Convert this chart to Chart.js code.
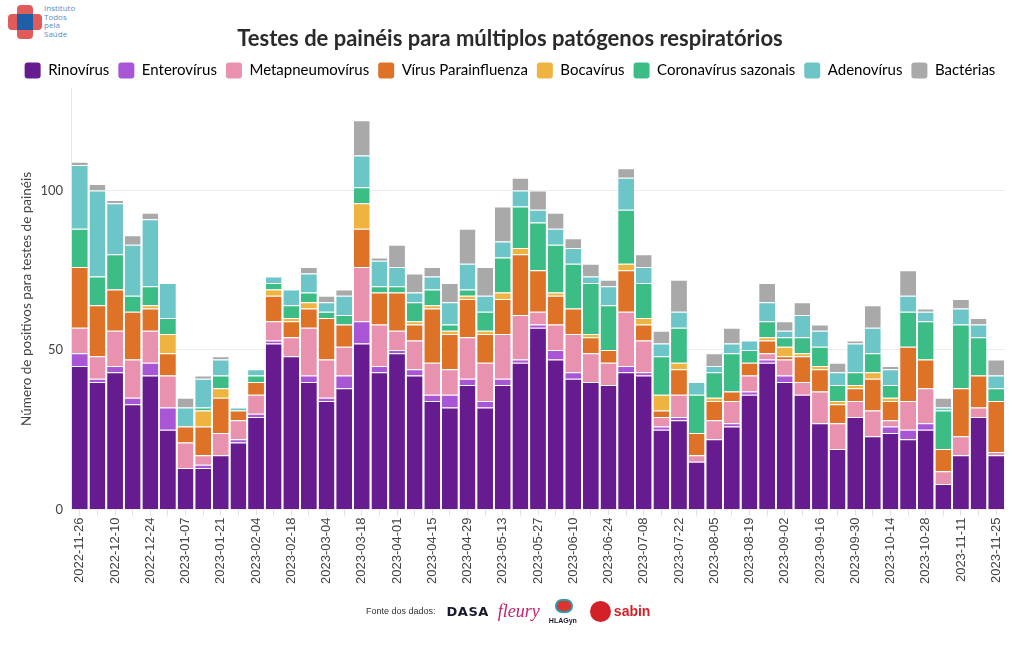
<!DOCTYPE html>
<html lang="pt-BR">
<head>
<meta charset="utf-8">
<title>Testes de painéis para múltiplos patógenos respiratórios</title>
<script src="https://cdn.jsdelivr.net/npm/chart.js@4.4.0/dist/chart.umd.min.js"></script>
<style>
  html, body { margin: 0; padding: 0; background: #fff; }
  body { width: 1020px; height: 650px; position: relative; overflow: hidden; font-family: "Liberation Sans", Arial, sans-serif; }
  #wrap { position: absolute; left: 0; top: 0; width: 1020px; height: 600px; }
  .logo { position: absolute; left: 8px; top: 5px; width: 34px; height: 34px; }
  .logo .v { position: absolute; left: 9px; top: 0; width: 16px; height: 34px; background: #e25b5b; border-radius: 4px; }
  .logo .h { position: absolute; left: 0; top: 9px; width: 34px; height: 16px; background: #e25b5b; border-radius: 4px; }
  .logo .c { position: absolute; left: 9px; top: 9px; width: 16px; height: 16px; background: #1f5fa8; }
  .logo-text { position: absolute; left: 44px; top: 4px; font-size: 8px; line-height: 8.5px; color: #5a8cc4; font-family: "Open Sans", sans-serif; }
  .footer { position: absolute; top: 598px; left: 366px; height: 26px; display: flex; align-items: center; gap: 9px; }
  .footer .src { font-size: 9px; color: #333; margin-right: 2px; }
  .dasa { font-family: "DejaVu Sans", sans-serif; font-weight: bold; font-size: 13px; letter-spacing: 0.5px; color: #1a1a2e; }
  .fleury { font-family: "Liberation Serif", serif; font-style: italic; font-size: 18px; color: #c8206a; }
  .hla { position: relative; width: 32px; height: 26px; }
  .hla .ic { position: absolute; left: 6px; top: 1px; width: 18px; height: 14px; border-radius: 7px; background: #d33; border: 2px solid #2a9aa6; box-sizing: border-box; }
  .hla .t { position: absolute; left: 0; bottom: 0; font-size: 7px; font-weight: bold; color: #1a1a2e; }
  .sabin { display: flex; align-items: center; gap: 3px; }
  .sabin .dot { width: 21px; height: 21px; border-radius: 50%; background: #d42027; }
  .sabin .t { font-size: 14px; font-weight: bold; color: #d42027; font-family: "Liberation Sans", sans-serif; }
</style>
</head>
<body>
<div class="logo"><div class="v"></div><div class="h"></div><div class="c"></div></div>
<div class="logo-text">Instituto<br>Todos<br>pela<br>Saúde</div>
<div id="wrap"><canvas id="chart"></canvas></div>
<div class="footer">
  <span class="src">Fonte dos dados:</span>
  <span class="dasa">DASA</span>
  <span class="fleury">fleury</span>
  <span class="hla"><span class="ic"></span><span class="t">HLAGyn</span></span>
  <span class="sabin"><span class="dot"></span><span class="t">sabin</span></span>
</div>
<script>
"use strict";

const weeks = [
  "2022-11-26", "2022-12-03", "2022-12-10", "2022-12-17", "2022-12-24", "2022-12-31",
  "2023-01-07", "2023-01-14", "2023-01-21", "2023-01-28", "2023-02-04", "2023-02-11",
  "2023-02-18", "2023-02-25", "2023-03-04", "2023-03-11", "2023-03-18", "2023-03-25",
  "2023-04-01", "2023-04-08", "2023-04-15", "2023-04-22", "2023-04-29", "2023-05-06",
  "2023-05-13", "2023-05-20", "2023-05-27", "2023-06-03", "2023-06-10", "2023-06-17",
  "2023-06-24", "2023-07-01", "2023-07-08", "2023-07-15", "2023-07-22", "2023-07-29",
  "2023-08-05", "2023-08-12", "2023-08-19", "2023-08-26", "2023-09-02", "2023-09-09",
  "2023-09-16", "2023-09-23", "2023-09-30", "2023-10-07", "2023-10-14", "2023-10-21",
  "2023-10-28", "2023-11-04", "2023-11-11", "2023-11-18", "2023-11-25"
];

const rinovirus = [45, 40, 43, 33, 42, 25, 13, 13, 17, 21, 29, 52, 48, 40, 34, 38, 52, 43,
  49, 42, 34, 32, 39, 32, 39, 46, 57, 47, 41, 40, 39, 43, 42, 25, 28, 15,
  22, 26, 36, 46, 40, 36, 27, 19, 29, 23, 24, 22, 25, 8, 17, 29, 17];
const enterovirus = [4, 1, 2, 2, 4, 7, 0, 1, 0, 1, 1, 1, 0, 2, 1, 4, 7, 2,
  1, 2, 2, 4, 2, 2, 2, 1, 1, 3, 2, 0, 0, 2, 1, 1, 1, 0,
  0, 1, 1, 1, 2, 0, 0, 0, 0, 0, 2, 3, 2, 0, 0, 0, 0];
const metapneumovirus = [8, 7, 11, 12, 10, 10, 8, 3, 7, 6, 6, 6, 6, 15, 12, 9, 17, 13,
  6, 9, 10, 8, 13, 12, 14, 14, 4, 8, 12, 9, 7, 17, 10, 3, 7, 2,
  6, 7, 5, 2, 5, 4, 10, 8, 5, 8, 2, 9, 11, 4, 6, 3, 1];
const parainfluenza = [19, 16, 13, 15, 7, 7, 5, 9, 11, 3, 4, 8, 5, 6, 13, 7, 12, 10,
  12, 5, 17, 11, 12, 9, 11, 19, 13, 9, 8, 5, 4, 13, 5, 2, 8, 7,
  6, 3, 4, 4, 1, 8, 7, 6, 4, 10, 6, 17, 9, 7, 15, 10, 16];
const bocavirus = [0, 0, 0, 0, 1, 6, 0, 5, 3, 0, 0, 2, 1, 2, 0, 0, 8, 0,
  0, 1, 1, 1, 1, 1, 2, 2, 0, 1, 0, 1, 0, 2, 2, 5, 2, 0,
  1, 0, 0, 1, 3, 1, 1, 1, 1, 2, 1, 0, 0, 0, 0, 0, 0];
const coronavirus = [12, 9, 11, 5, 6, 5, 0, 1, 4, 0, 2, 2, 4, 3, 2, 3, 5, 2,
  2, 6, 5, 2, 2, 6, 11, 13, 15, 15, 14, 16, 14, 17, 11, 12, 11, 12,
  8, 12, 4, 5, 3, 5, 6, 5, 4, 6, 4, 11, 12, 12, 20, 12, 4];
const adenovirus = [20, 27, 16, 16, 21, 11, 6, 9, 5, 1, 2, 2, 5, 6, 3, 6, 10, 8,
  6, 3, 4, 7, 8, 5, 5, 5, 4, 5, 5, 2, 6, 10, 5, 4, 5, 4,
  2, 3, 3, 6, 2, 7, 5, 4, 9, 8, 5, 5, 3, 1, 5, 4, 4];
const bacterias = [1, 2, 1, 3, 2, 0, 3, 1, 1, 0, 0, 0, 0, 2, 2, 2, 11, 1,
  7, 6, 3, 6, 11, 9, 11, 4, 6, 5, 3, 4, 2, 3, 4, 4, 10, 0,
  4, 5, 0, 6, 3, 4, 2, 3, 1, 7, 1, 8, 1, 3, 3, 2, 5];

const seriesNames = ["Rinovírus", "Enterovírus", "Metapneumovírus", "Vírus Parainfluenza",
  "Bocavírus", "Coronavírus sazonais", "Adenovírus", "Bactérias"];
const seriesValues = [rinovirus, enterovirus, metapneumovirus, parainfluenza,
  bocavirus, coronavirus, adenovirus, bacterias];
const seriesColors = ["#661c8e", "#a855d6", "#e892b0", "#de7226", "#efb440", "#3dbd86", "#6cc5c6", "#a9a9a9"];

const ctx = document.getElementById("chart").getContext("2d");

const datasets = seriesNames.map((name, i) => ({
  label: name,
  data: seriesValues[i],
  backgroundColor: seriesColors[i],
  borderColor: "#ffffff",
  borderWidth: { top: 1, left: 0, right: 0, bottom: 0 },
  borderSkipped: "start",
  barPercentage: 0.9,
  categoryPercentage: 1.0
}));

new Chart(ctx, {
  type: "bar",
  data: { labels: weeks, datasets: datasets },
  options: {
    responsive: true,
    maintainAspectRatio: false,
    animation: false,
    layout: { padding: { left: 15, right: 15, top: 0, bottom: 14 } },
    plugins: {
      title: {
        display: true,
        text: "Testes de painéis para múltiplos patógenos respiratórios",
        color: "#2a2a2a",
        font: { family: "Lato", size: 22, weight: "bold" },
        padding: { top: 26, bottom: 1 }
      },
      legend: {
        position: "top",
        labels: {
          color: "#333",
          font: { family: "Lato", size: 15 },
          boxWidth: 16,
          boxHeight: 16,
          padding: 9,
          useBorderRadius: true,
          borderRadius: 3,
          generateLabels: (chart) => chart.data.datasets.map((ds, i) => ({
            text: ds.label,
            fillStyle: ds.backgroundColor,
            strokeStyle: ds.backgroundColor,
            lineWidth: 0,
            borderRadius: 3,
            datasetIndex: i,
            hidden: false
          }))
        }
      },
      tooltip: { enabled: false }
    },
    scales: {
      x: {
        stacked: true,
        grid: { display: true, drawOnChartArea: false, drawTicks: true, tickLength: 6, color: "#e0e0e0", offset: false },
        border: { display: false },
        ticks: {
          autoSkip: false,
          maxRotation: 90,
          minRotation: 90,
          color: "#444",
          padding: 2,
          font: { family: "Liberation Sans", size: 13 },
          callback: function (value, index) {
            return index % 2 === 0 ? weeks[index] : "";
          }
        }
      },
      y: {
        stacked: true,
        min: 0,
        max: 132,
        afterFit: (scale) => { scale.width = 56; },
        grid: { color: "#ececec", drawTicks: false },
        border: { display: true, color: "#e8e8e8" },
        title: {
          display: true,
          text: "Número de positivos para testes de painéis",
          color: "#444",
          font: { family: "Lato", size: 13.5 },
          padding: { bottom: 2 }
        },
        ticks: {
          stepSize: 50,
          color: "#444",
          padding: 8,
          font: { family: "Lato", size: 13 },
          callback: (v) => (v % 50 === 0 ? v : null)
        }
      }
    }
  }
});
</script>
</body>
</html>
